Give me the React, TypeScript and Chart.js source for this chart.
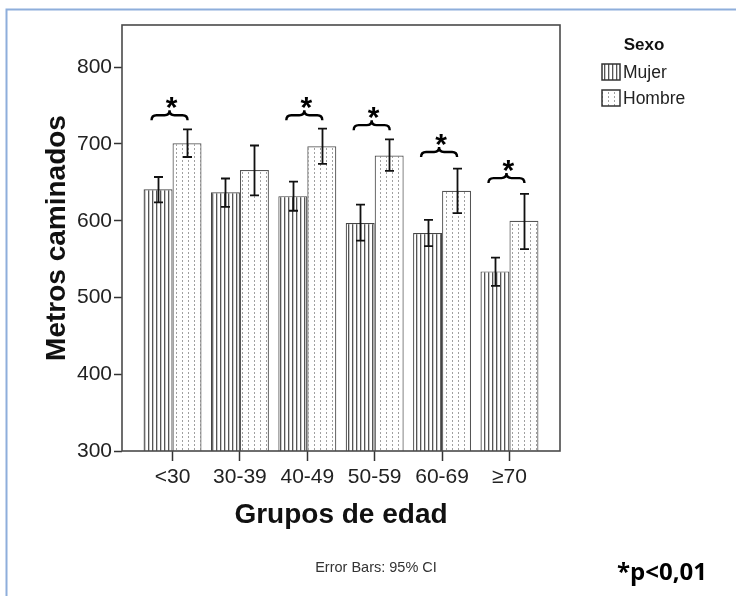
import React, { useEffect, useRef } from "react";
import { Chart, registerables } from "chart.js";

Chart.register(...registerables);

// ---- Data ----
const categories = ["<30", "30-39", "40-49", "50-59", "60-69", "≥70"];
const seriesLabels = ["Mujer", "Hombre"];
const mujerMean = [641, 637, 632, 597, 584, 534];
const mujerLow = [624, 618, 613, 574, 567, 515];
const mujerHigh = [657, 655, 651, 621, 601, 552];
const hombreMean = [701, 666, 697, 685, 639, 600];
const hombreLow = [683, 633, 674, 665, 610, 563];
const hombreHigh = [719, 698, 720, 706, 668, 635];
const braceLevels: (number | null)[] = [731, null, 731, 718, 683, 649];
const yTicks = [300, 400, 500, 600, 700, 800];
const yMin = 300;
const yMax = 855;
const lows = [mujerLow, hombreLow];
const highs = [mujerHigh, hombreHigh];

const FONT = '"Liberation Sans", Arial, sans-serif';

function makeStripes(): CanvasPattern | string {
  const c = document.createElement("canvas");
  c.width = 4;
  c.height = 4;
  const g = c.getContext("2d")!;
  g.fillStyle = "#ffffff";
  g.fillRect(0, 0, 4, 4);
  g.fillStyle = "#555555";
  g.fillRect(0, 0, 1, 4);
  g.fillStyle = "#c8c8c8";
  g.fillRect(1, 0, 1, 4);
  return g.createPattern(c, "repeat") || "#ccc";
}

function makeDots(): CanvasPattern | string {
  const c = document.createElement("canvas");
  c.width = 6;
  c.height = 4;
  const g = c.getContext("2d")!;
  g.fillStyle = "#ffffff";
  g.fillRect(0, 0, 6, 4);
  g.fillStyle = "#a0a0a0";
  g.fillRect(2, 0, 1, 2);
  return g.createPattern(c, "repeat") || "#eee";
}

const decor = {
  id: "decor",
  beforeDraw(chart: any) {
    const ctx = chart.ctx;
    ctx.save();
    ctx.fillStyle = "#ffffff";
    ctx.fillRect(0, 0, chart.width, chart.height);
    ctx.strokeStyle = "#8eaedb";
    ctx.lineWidth = 2;
    ctx.beginPath();
    ctx.moveTo(6.5, chart.height);
    ctx.lineTo(6.5, 9.5);
    ctx.lineTo(chart.width, 9.5);
    ctx.stroke();
    ctx.restore();
  },
  afterDatasetsDraw(chart: any) {
    const ctx = chart.ctx;
    const ys = chart.scales.y;
    const xs = chart.scales.x;
    const ca = chart.chartArea;
    ctx.save();
    // error bars
    ctx.strokeStyle = "#111";
    ctx.lineWidth = 1.8;
    chart.data.datasets.forEach((_: any, d: number) => {
      const meta = chart.getDatasetMeta(d);
      meta.data.forEach((el: any, j: number) => {
        const x = Math.round(el.x) + 0.5;
        const y1 = ys.getPixelForValue(lows[d][j]);
        const y2 = ys.getPixelForValue(highs[d][j]);
        ctx.beginPath();
        ctx.moveTo(x, y1);
        ctx.lineTo(x, y2);
        ctx.moveTo(x - 4.5, y1);
        ctx.lineTo(x + 4.5, y1);
        ctx.moveTo(x - 4.5, y2);
        ctx.lineTo(x + 4.5, y2);
        ctx.stroke();
      });
    });
    // braces and stars
    ctx.strokeStyle = "#000";
    ctx.lineWidth = 2.4;
    ctx.fillStyle = "#000";
    braceLevels.forEach((lvl, i) => {
      if (lvl == null) return;
      const cx = xs.getPixelForValue(i) - 3;
      const yEnd = ys.getPixelForValue(lvl);
      const w = 36;
      const l = cx - w / 2;
      const r = cx + w / 2;
      const ym = yEnd - 5;
      const tip = ym - 5;
      ctx.beginPath();
      ctx.moveTo(l, yEnd);
      ctx.quadraticCurveTo(l, ym, l + 5, ym);
      ctx.lineTo(cx - 5, ym);
      ctx.quadraticCurveTo(cx, ym, cx, tip);
      ctx.quadraticCurveTo(cx, ym, cx + 5, ym);
      ctx.lineTo(r - 5, ym);
      ctx.quadraticCurveTo(r, ym, r, yEnd);
      ctx.stroke();
      ctx.font = `bold 30px ${FONT}`;
      ctx.textAlign = "center";
      ctx.textBaseline = "alphabetic";
      ctx.fillText("*", cx + 2, tip + 7);
    });
    // plot box
    ctx.strokeStyle = "#4a4a4a";
    ctx.lineWidth = 1.6;
    ctx.strokeRect(ca.left, ca.top, ca.right - ca.left, ca.bottom - ca.top);
    ctx.restore();
  },
  afterDraw(chart: any) {
    const ctx = chart.ctx;
    ctx.save();
    // legend
    ctx.fillStyle = "#111";
    ctx.font = `bold 17px ${FONT}`;
    ctx.textAlign = "center";
    ctx.textBaseline = "middle";
    ctx.fillText("Sexo", 644, 45);
    chart.data.datasets.forEach((ds: any, i: number) => {
      const yc = 72 + i * 26;
      ctx.fillStyle = ds.backgroundColor;
      ctx.fillRect(602, yc - 8, 18, 16);
      ctx.strokeStyle = "#333";
      ctx.lineWidth = 1.5;
      ctx.strokeRect(602, yc - 8, 18, 16);
      ctx.fillStyle = "#222";
      ctx.font = `17.5px ${FONT}`;
      ctx.textAlign = "left";
      ctx.textBaseline = "middle";
      ctx.fillText(ds.label, 623, yc + 1);
    });
    // footnotes
    ctx.fillStyle = "#333";
    ctx.font = `14.5px ${FONT}`;
    ctx.textAlign = "center";
    ctx.textBaseline = "middle";
    ctx.fillText("Error Bars: 95% CI", 376, 568);
    ctx.fillStyle = "#000";
    ctx.font = `bold 24px "Open Sans", sans-serif`;
    ctx.textAlign = "left";
    ctx.fillText("*p<0,01", 617, 573);
    ctx.restore();
  },
};

export default function App() {
  const ref = useRef<HTMLCanvasElement>(null);
  useEffect(() => {
    const canvas = ref.current!;
    const mujerPattern = makeStripes();
    const hombrePattern = makeDots();
    const chart = new Chart(canvas, {
      type: "bar",
      data: {
        datasets: [
          {
            label: seriesLabels[0],
            data: mujerMean.map((y, i) => ({ x: i, y })),
            backgroundColor: mujerPattern as any,
            borderColor: "#444",
            borderWidth: 1.2,
          },
          {
            label: seriesLabels[1],
            data: hombreMean.map((y, i) => ({ x: i, y })),
            backgroundColor: hombrePattern as any,
            borderColor: "#555",
            borderWidth: 1.2,
          },
        ],
      },
      options: {
        responsive: false,
        animation: false,
        devicePixelRatio: 1,
        layout: { padding: { top: 25, right: 176, left: 0, bottom: 0 } },
        datasets: { bar: { categoryPercentage: 0.86, barPercentage: 1.0 } },
        plugins: { legend: { display: false }, tooltip: { enabled: false } },
        scales: {
          x: {
            type: "linear",
            min: -0.75,
            max: 5.75,
            offset: false,
            afterBuildTicks: (s: any) => {
              s.ticks = categories.map((_, i) => ({ value: i }));
            },
            afterFit: (s: any) => {
              s.height = 145;
            },
            ticks: {
              autoSkip: false,
              maxRotation: 0,
              padding: 4,
              color: "#222",
              font: { family: FONT, size: 21 },
              callback: (v: any) => categories[Math.round(Number(v))] ?? "",
            },
            grid: {
              drawOnChartArea: false,
              drawTicks: true,
              tickLength: 10,
              tickColor: "#333",
              tickWidth: 1.5,
              offset: false,
            },
            border: { display: false },
            title: {
              display: true,
              text: "Grupos de edad",
              color: "#111",
              font: { family: FONT, size: 28, weight: "bold", lineHeight: 1.2 },
              padding: { top: 0, bottom: 64 },
            },
          },
          y: {
            type: "linear",
            min: yMin,
            max: yMax,
            afterBuildTicks: (s: any) => {
              s.ticks = yTicks.map((v) => ({ value: v }));
            },
            afterFit: (s: any) => {
              s.width = 122;
            },
            ticks: {
              padding: 2,
              color: "#222",
              font: { family: FONT, size: 21 },
            },
            grid: {
              drawOnChartArea: false,
              drawTicks: true,
              tickLength: 8,
              tickColor: "#333",
              tickWidth: 1.5,
            },
            border: { display: false },
            title: {
              display: true,
              text: "Metros caminados",
              color: "#111",
              font: { family: FONT, size: 28, weight: "bold", lineHeight: 1.2 },
              padding: { top: 40, bottom: 0 },
            },
          },
        },
      },
      plugins: [decor],
    } as any);
    return () => chart.destroy();
  }, []);
  return (
    <div style={{ position: "fixed", left: 0, top: 0, width: 736, height: 596, background: "#fff" }}>
      <canvas ref={ref} width={736} height={596} style={{ display: "block" }} />
    </div>
  );
}
